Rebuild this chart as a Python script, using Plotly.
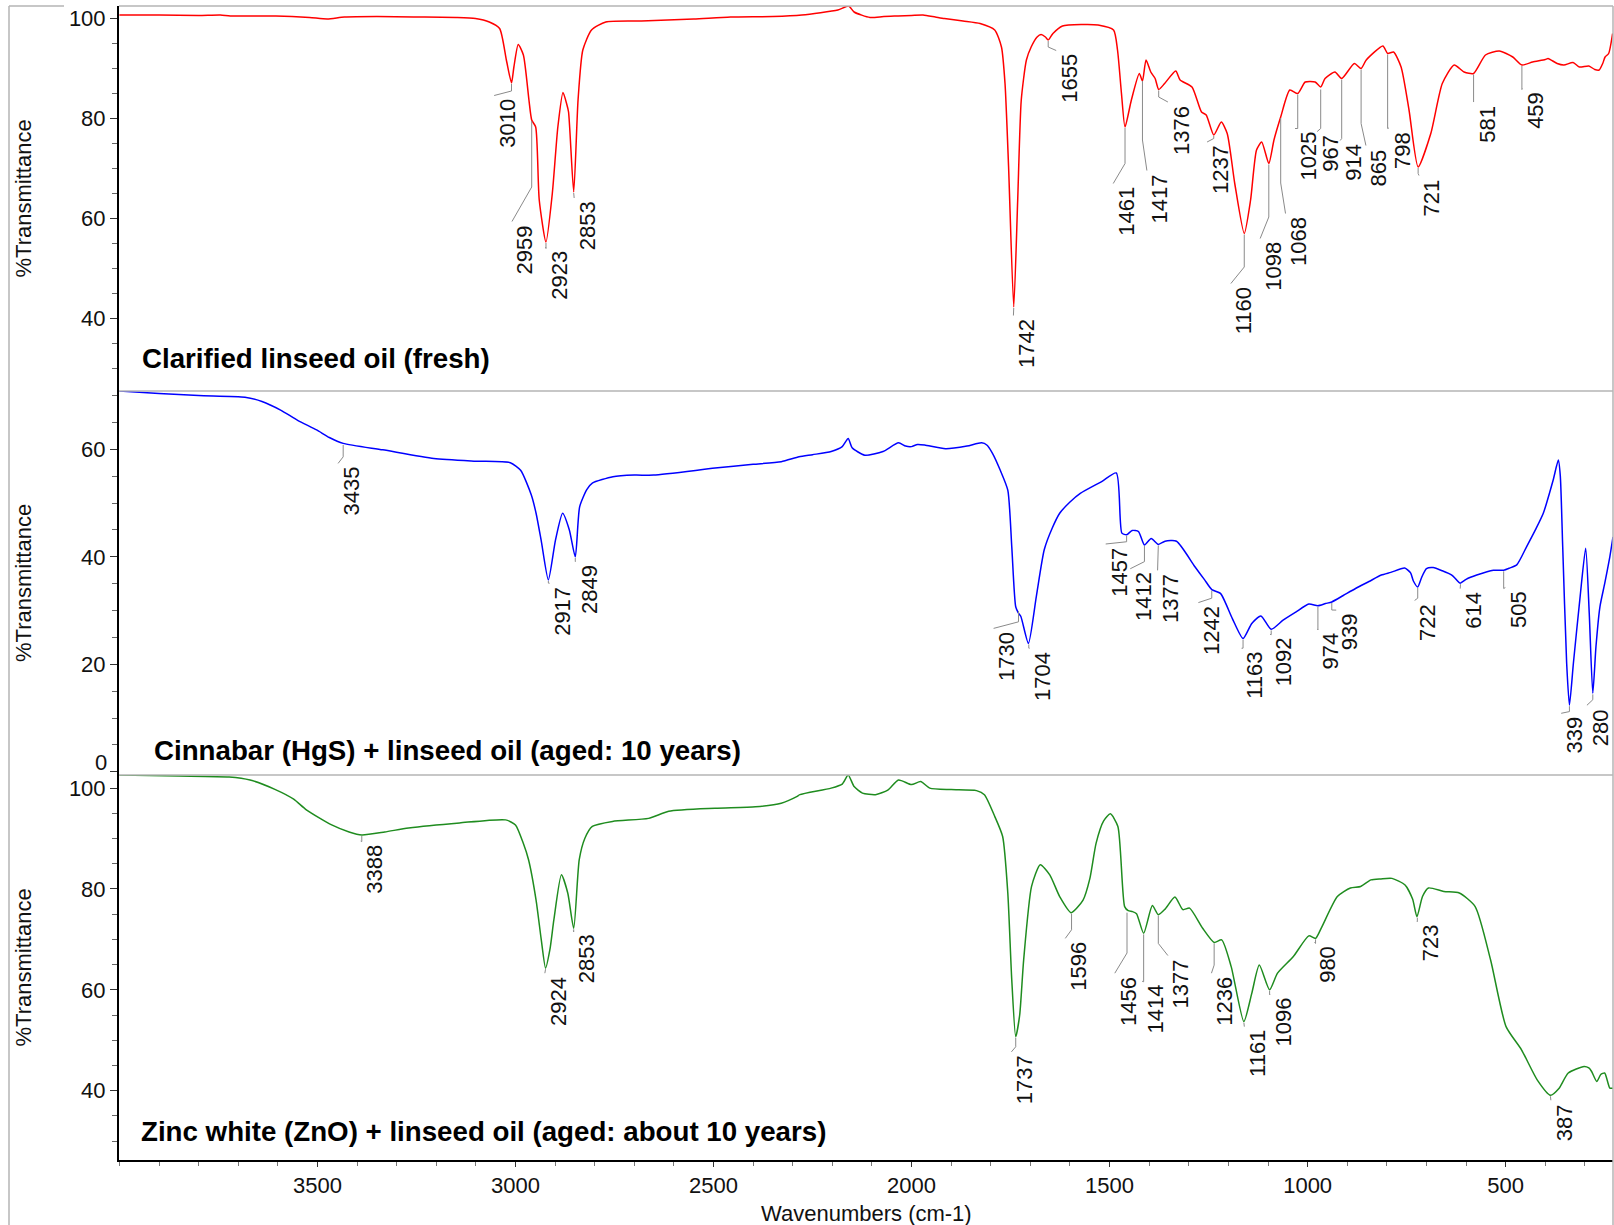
import plotly.graph_objects as go

# ---------------- data ----------------
red_wn = [4000, 3900, 3800, 3745, 3720, 3605, 3520, 3475, 3432, 3350, 3257, 3150, 3101, 3066, 3040,
          3023, 3010, 3004, 2993, 2980, 2966, 2959, 2949, 2940, 2923, 2907, 2893, 2880, 2871, 2866,
          2853, 2842, 2830, 2808, 2772, 2682, 2550, 2457, 2350, 2277, 2186, 2159, 2145, 2105, 2070,
          2034, 2000, 1971, 1940, 1917, 1870, 1827, 1790, 1773, 1764, 1755, 1742, 1732, 1723, 1710,
          1698, 1683, 1673, 1662, 1655, 1643, 1619, 1570, 1529, 1490, 1480, 1470, 1461, 1445, 1425,
          1417, 1408, 1396, 1385, 1376, 1361, 1333, 1322, 1292, 1268, 1256, 1237, 1218, 1203, 1184,
          1160, 1144, 1129, 1116, 1098, 1085, 1068, 1045, 1025, 1006, 981, 967, 956, 931, 914,
          882, 865, 852, 810, 798, 783, 764, 744, 721, 689, 660, 630, 605, 581, 551,
          516, 482, 459, 432, 400, 393, 370, 353, 330, 314, 290, 275, 264, 255, 249, 240, 230]
red_T = [100.7, 100.7, 100.6, 100.7, 100.5, 100.5, 100.2, 99.9, 100.3, 100.4, 100.3, 100.2, 100.0, 99.3, 98.0,
         91.7, 87.1, 90.3, 94.8, 92.7, 83.7, 79.7, 78.3, 63.7, 55.3, 65.0, 78.3, 85.2, 83.0, 81.3,
         65.3, 83.7, 93.7, 97.7, 99.3, 99.5, 99.9, 100.3, 100.4, 100.7, 101.7, 102.5, 101.3, 100.2, 100.4,
         100.5, 100.6, 100.7, 100.3, 100.0, 99.5, 99.0, 97.7, 94.3, 87.0, 70.3, 42.3, 63.7, 83.7, 91.7,
         94.3, 96.3, 96.8, 96.3, 95.7, 97.0, 98.5, 98.8, 98.7, 97.7, 93.7, 85.0, 78.3, 83.7, 89.0,
         87.5, 91.7, 89.3, 88.0, 85.8, 87.0, 89.5, 87.7, 86.3, 81.3, 80.7, 76.7, 79.3, 77.0, 67.0,
         57.0, 63.7, 73.7, 75.3, 71.0, 75.7, 80.3, 85.7, 85.0, 87.3, 87.3, 86.3, 88.0, 89.3, 88.0,
         91.0, 90.0, 91.7, 94.5, 93.0, 93.3, 90.3, 81.7, 70.3, 77.0, 87.0, 90.7, 89.3, 89.0, 92.7,
         93.5, 92.3, 90.7, 91.3, 91.8, 92.0, 91.0, 90.7, 91.2, 90.3, 90.5, 89.8, 89.7, 91.0, 92.3, 93.0, 97.0]

blue_wn = [4000, 3900, 3800, 3683, 3640, 3593, 3550, 3502, 3470, 3435, 3335, 3206, 3100, 3013, 2987,
           2960, 2948, 2935, 2917, 2899, 2881, 2864, 2849, 2838, 2820, 2806, 2754, 2700, 2651, 2496,
           2400, 2329, 2284, 2250, 2203, 2175, 2160, 2150, 2118, 2072, 2033, 2015, 2000, 1985, 1967,
           1914, 1860, 1823, 1810, 1796, 1776, 1757, 1747, 1737, 1730, 1724, 1705, 1685, 1665, 1645,
           1626, 1600, 1574, 1520, 1483, 1469, 1457, 1443, 1427, 1412, 1395, 1377, 1360, 1331, 1285,
           1260, 1242, 1220, 1190, 1163, 1141, 1118, 1092, 1062, 1030, 997, 974, 955, 939, 910,
           879, 845, 814, 790, 755, 740, 733, 722, 712, 700, 683, 660, 636, 625, 615,
           600, 573, 531, 505, 490, 472, 447, 425, 405, 380, 367, 362, 356, 346, 339,
           329, 312, 298, 289, 280, 272, 262, 250, 237, 229]
blue_T = [70.85, 70.4, 70.0, 69.7, 68.9, 67.3, 65.4, 63.6, 62.2, 61.1, 59.9, 58.3, 57.8, 57.5, 56.1,
          51.5, 48.1, 43.0, 35.7, 43.1, 48.1, 45.0, 40.0, 49.3, 52.5, 53.7, 54.9, 55.2, 55.2, 56.5,
          57.2, 57.7, 58.6, 59.0, 59.6, 60.5, 62.0, 60.3, 58.9, 59.6, 61.2, 60.6, 60.5, 60.9, 60.8,
          60.1, 60.6, 61.2, 60.8, 59.3, 56.1, 52.4, 41.9, 30.7, 29.5, 28.9, 23.9, 32.6, 41.3, 45.3,
          48.1, 50.2, 51.8, 54.0, 55.6, 44.4, 44.1, 44.9, 44.7, 42.2, 43.4, 42.3, 42.9, 42.9, 38.2,
          35.7, 33.9, 33.2, 28.5, 24.8, 27.6, 29.0, 26.5, 28.2, 29.7, 31.2, 30.9, 31.3, 31.6, 32.8,
          34.1, 35.4, 36.6, 37.1, 37.9, 37.0, 35.5, 34.4, 36.2, 37.8, 38.0, 37.4, 36.6, 35.8, 35.1,
          35.8, 36.6, 37.5, 37.5, 37.9, 38.5, 41.9, 45.0, 48.1, 54.3, 58.0, 55.0, 41.9, 20.2, 12.4,
          20.2, 32.6, 41.6, 29.5, 14.6, 23.3, 30.7, 35.0, 40.0, 43.7]

green_wn = [4000, 3850, 3723, 3670, 3606, 3560, 3528, 3464, 3420, 3388, 3330, 3270, 3141, 3025, 3000,
            2980, 2967, 2948, 2935, 2924, 2913, 2903, 2884, 2868, 2853, 2839, 2825, 2806, 2755, 2664,
            2613, 2496, 2394, 2329, 2290, 2282, 2203, 2175, 2160, 2145, 2124, 2091, 2060, 2033, 2000,
            1977, 1954, 1900, 1836, 1816, 1790, 1770, 1757, 1747, 1737, 1727, 1717, 1697, 1675, 1651,
            1626, 1597, 1567, 1550, 1534, 1515, 1498, 1479, 1462, 1453, 1442, 1432, 1414, 1392, 1377,
            1360, 1335, 1315, 1298, 1265, 1236, 1217, 1193, 1161, 1141, 1122, 1096, 1076, 1036, 997,
            980, 964, 925, 892, 866, 840, 815, 787, 754, 735, 724, 710, 695, 656, 617,
            577, 538, 499, 460, 420, 387, 365, 342, 302, 290, 283, 270, 260, 250, 237, 229]
green_T = [102.6, 102.4, 102.2, 101.6, 99.7, 97.8, 95.7, 92.7, 91.3, 90.7, 91.3, 92.1, 93.1, 93.7, 92.7,
           89.0, 85.8, 77.8, 70.0, 64.3, 68.0, 73.9, 82.8, 79.2, 72.2, 85.8, 90.0, 92.4, 93.4, 94.0,
           95.4, 96.0, 96.3, 97.0, 98.3, 98.7, 100.0, 100.8, 102.6, 100.3, 99.0, 98.7, 99.6, 101.6, 100.7,
           101.3, 100.0, 99.7, 99.5, 98.7, 94.4, 90.4, 79.2, 62.0, 50.7, 55.0, 65.9, 80.5, 84.8, 82.8,
           78.5, 75.3, 77.8, 82.0, 89.1, 93.5, 94.9, 92.4, 76.5, 75.7, 75.5, 75.1, 71.2, 76.7, 74.9,
           76.0, 78.4, 75.9, 76.2, 72.2, 69.4, 69.9, 64.6, 53.7, 59.3, 64.9, 60.0, 63.3, 66.6, 70.7,
           70.2, 72.5, 78.5, 80.2, 80.5, 81.8, 82.0, 82.1, 80.8, 78.0, 74.5, 78.5, 80.2, 79.5, 79.2,
           76.5, 65.9, 52.7, 48.1, 42.1, 39.1, 40.5, 43.5, 44.8, 44.5, 43.8, 41.8, 43.2, 43.5, 40.5, 40.5]

# peak labels: wavenumber, %T at peak, %T of leader knee, label centre wavenumber, %T at label top
red_peaks = [3010, 2959, 2923, 2853, 1742, 1655, 1461, 1417, 1376, 1237, 1160, 1098, 1068,
             1025, 967, 914, 865, 798, 721, 581, 459]
red_peak_T = [87.1, 79.7, 55.3, 65.3, 42.3, 95.7, 78.3, 87.7, 85.8, 76.7, 57.0, 71.0, 80.3,
              85.0, 86.0, 88.0, 90.0, 93.0, 70.3, 89.0, 90.7]
red_knee_T = [85.5, 66.3, 54.0, 64.2, 40.7, 94.3, 71.0, 75.7, 84.3, 76.0, 50.3, 60.3, 67.1,
              78.0, 78.0, 76.0, 79.0, 78.0, 69.0, 83.3, 85.8]
red_lab_wn = [3021, 2976, 2891, 2819, 1710, 1602, 1458, 1373, 1320, 1221, 1161, 1087, 1023,
              999, 943, 885, 820, 762, 686, 548, 425]
red_lab_T = [84.3, 59.1, 54.0, 63.8, 40.3, 93.3, 66.7, 69.3, 83.0, 75.0, 46.7, 55.7, 60.7,
             77.7, 77.1, 75.3, 74.3, 77.8, 68.3, 83.0, 85.7]

blue_peaks = [3435, 2917, 2849, 1730, 1704, 1457, 1412, 1377, 1242, 1163, 1092, 974, 939,
              722, 614, 505, 339, 280]
blue_peak_T = [61.0, 35.7, 40.0, 30.1, 23.9, 44.1, 42.2, 42.3, 33.9, 24.8, 26.5, 30.9, 31.6,
               34.4, 35.1, 37.5, 12.4, 14.6]
blue_knee_T = [58.6, 35.1, 39.1, 27.9, 23.0, 42.8, 39.1, 37.5, 32.3, 23.0, 25.5, 26.4, 30.1,
               32.3, 34.1, 34.1, 11.2, 13.4]
blue_lab_wn = [3415, 2881, 2815, 1760, 1669, 1477, 1415, 1346, 1243, 1134, 1062, 942, 895,
               697, 582, 468, 327, 262]
blue_lab_T = [57.1, 34.8, 38.9, 26.4, 22.7, 42.1, 37.5, 37.2, 31.2, 22.7, 25.3, 26.3, 29.8,
              31.6, 33.8, 34.0, 10.6, 12.1]

green_peaks = [3388, 2924, 2853, 1737, 1596, 1456, 1414, 1377, 1236, 1161, 1096, 980, 723, 387]
green_peak_T = [90.7, 64.3, 72.2, 50.7, 75.3, 75.5, 71.2, 74.9, 69.4, 53.7, 60.0, 70.2, 74.5, 39.1]
green_knee_T = [89.4, 63.3, 71.5, 48.7, 71.9, 67.3, 61.6, 69.2, 64.9, 52.7, 59.0, 69.2, 73.5, 38.2]
green_lab_wn = [3358, 2893, 2821, 1715, 1579, 1454, 1385, 1320, 1210, 1127, 1062, 950, 691, 353]
green_lab_T = [89.2, 63.0, 71.4, 47.4, 69.9, 63.0, 61.4, 66.5, 63.0, 52.4, 58.8, 69.1, 73.3, 37.8]

titles = ["Clarified linseed oil (fresh)",
          "Cinnabar (HgS) + linseed oil (aged: 10 years)",
          "Zinc white (ZnO) + linseed oil (aged: about 10 years)"]
y_title = "%Transmittance"
x_title = "Wavenumbers (cm-1)"
x_ticks = [3500, 3000, 2500, 2000, 1500, 1000, 500]

# ---------------- layout geometry ----------------
W, H = 1614, 1225
ML, MR, MT, MB = 119, 1, 6, 65
PW = W - ML - MR
PH = H - MT - MB


def pyp(p):
    return (H - MB - p) / PH


def pxp(p):
    return (p - ML) / PW


FONT = "Arial, Liberation Sans, sans-serif"
GRAY = "#b4b4b4"
LEAD = "#8a8a8a"
WN_PER_PX = (3500 - 500) / (1505.7 - 317.3)

panels = [
    dict(wn=red_wn, T=red_T, color="#ff0000", ax="y", rng=[25.5, 102.5], dom=[pyp(391), 1.0],
         pk=red_peaks, pkT=red_peak_T, kn=red_knee_T, lw=red_lab_wn, lt=red_lab_T, ppu=5.0,
         title_y=359, title_x=139.5),
    dict(wn=blue_wn, T=blue_T, color="#0000ff", ax="y2", rng=[-0.6, 70.85], dom=[pyp(775), pyp(391)],
         pk=blue_peaks, pkT=blue_peak_T, kn=blue_knee_T, lw=blue_lab_wn, lt=blue_lab_T, ppu=5.374,
         title_y=750, title_x=151.5),
    dict(wn=green_wn, T=green_T, color="#1f8c1f", ax="y3", rng=[26.25, 102.6], dom=[0.0, pyp(775)],
         pk=green_peaks, pkT=green_peak_T, kn=green_knee_T, lw=green_lab_wn, lt=green_lab_T, ppu=5.043,
         title_y=1131, title_x=139.3),
]

fig = go.Figure()
annotations = []

for i, p in enumerate(panels):
    fig.add_trace(go.Scatter(x=p["wn"], y=p["T"], mode="lines", xaxis="x", yaxis=p["ax"],
                             line=dict(color=p["color"], width=1.5, shape="spline", smoothing=0.6),
                             hoverinfo="skip", showlegend=False))
    lx, ly = [], []
    for wn, t0, tk, lwn, lt in zip(p["pk"], p["pkT"], p["kn"], p["lw"], p["lt"]):
        lx += [wn, wn, lwn + 13 * WN_PER_PX, None]
        ly += [t0 - 0.2, tk, lt + 1.5 / p["ppu"], None]
        annotations.append(dict(text=str(wn), x=lwn, y=lt, xref="x", yref=p["ax"],
                                textangle=-90, xanchor="center", yanchor="top",
                                showarrow=False, font=dict(family=FONT, size=22, color="#111")))
    fig.add_trace(go.Scatter(x=lx, y=ly, mode="lines", xaxis="x", yaxis=p["ax"],
                             line=dict(color=LEAD, width=1), hoverinfo="skip", showlegend=False))
    annotations.append(dict(text="<b>" + titles[i] + "</b>", x=pxp(p["title_x"]), y=pyp(p["title_y"]),
                            xref="paper", yref="paper", xanchor="left", yanchor="middle",
                            showarrow=False, font=dict(family=FONT, size=27.7, color="#000")))
    mid = (p["dom"][0] + p["dom"][1]) / 2
    annotations.append(dict(text=y_title, x=pxp(23), y=mid, xref="paper", yref="paper",
                            textangle=-90, xanchor="center", yanchor="middle", showarrow=False,
                            font=dict(family=FONT, size=22, color="#111")))

annotations.append(dict(text=x_title, x=pxp(866), y=pyp(1213), xref="paper", yref="paper",
                        xanchor="center", yanchor="middle", showarrow=False,
                        font=dict(family=FONT, size=22, color="#111")))
# zero label of the middle panel sits just above its tick
annotations.append(dict(text="0", x=pxp(109), y=pyp(762.5), xref="paper", yref="paper",
                        xanchor="right", yanchor="middle", showarrow=False,
                        font=dict(family=FONT, size=22, color="#111")))


def yaxis(p, tickvals, ticktext):
    return dict(domain=p["dom"], anchor="x", range=p["rng"], showgrid=False, zeroline=False,
                showline=True, linecolor="#000", linewidth=2, ticks="outside", ticklen=7,
                tickwidth=1, tickcolor="#333", tickvals=tickvals, ticktext=ticktext,
                tickfont=dict(family=FONT, size=22, color="#111"),
                minor=dict(dtick=5, tick0=0, ticks="outside", ticklen=5, tickcolor="#666",
                           tickwidth=1, showgrid=False))


shapes = []
line = dict(color=GRAY, width=1.5)
for yy in [1.0, pyp(391), pyp(775)]:
    shapes.append(dict(type="line", xref="paper", yref="paper", x0=0, x1=1, y0=yy, y1=yy, line=line))
shapes.append(dict(type="line", xref="paper", yref="paper", x0=1, x1=1, y0=pyp(1225), y1=1, line=line))
shapes.append(dict(type="line", xref="paper", yref="paper", x0=pxp(9), x1=pxp(9), y0=pyp(1225), y1=1,
                   line=line))
shapes.append(dict(type="line", xref="paper", yref="paper", x0=pxp(9), x1=pxp(64), y0=1, y1=1, line=line))

fig.update_layout(
    width=W, height=H, margin=dict(l=ML, r=MR, t=MT, b=MB),
    paper_bgcolor="white", plot_bgcolor="white", showlegend=False,
    font=dict(family=FONT, color="#111"),
    xaxis=dict(domain=[0, 1], anchor="y3", range=[4001, 229], showgrid=False, zeroline=False,
               showline=True, linecolor="#000", linewidth=2, ticks="outside", ticklen=5,
               tickcolor="#333", tickvals=x_ticks, ticktext=[str(v) for v in x_ticks],
               tickfont=dict(family=FONT, size=22, color="#111"),
               minor=dict(dtick=100, tick0=0, ticks="outside", ticklen=4, tickcolor="#777",
                          showgrid=False)),
    yaxis=yaxis(panels[0], [40, 60, 80, 100], ["40", "60", "80", "100"]),
    yaxis2=yaxis(panels[1], [0, 20, 40, 60], ["", "20", "40", "60"]),
    yaxis3=yaxis(panels[2], [40, 60, 80, 100], ["40", "60", "80", "100"]),
    annotations=annotations, shapes=shapes,
)

fig.write_html("out.html", config={"displayModeBar": False},
               post_script="document.body.style.margin='0';document.body.style.overflow='hidden';")
